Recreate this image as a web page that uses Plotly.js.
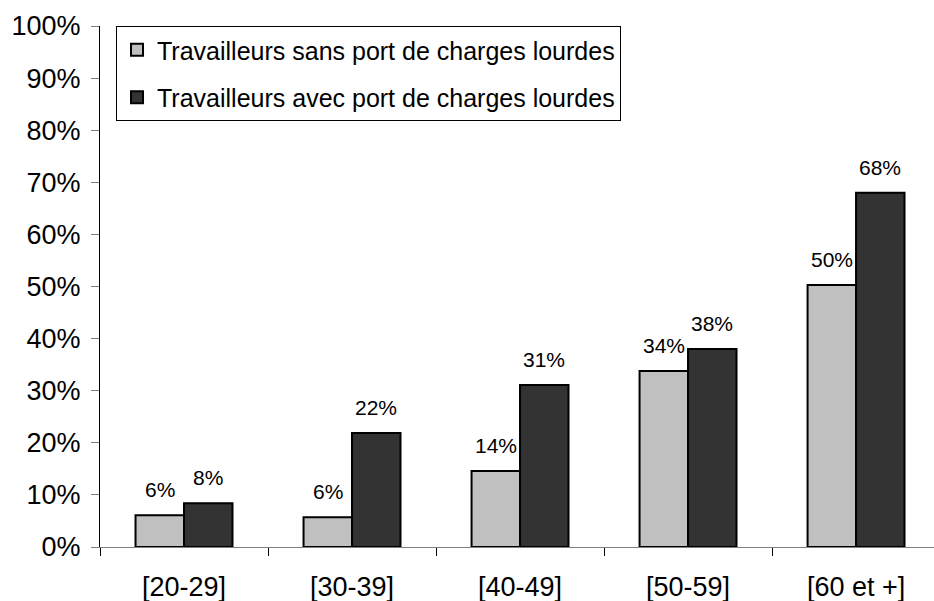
<!DOCTYPE html>
<html>
<head>
<meta charset="utf-8">
<script src="https://cdn.plot.ly/plotly-3.0.1.min.js"></script>
<style>html,body{margin:0;padding:0;background:#fff;}#chart{width:934px;height:601px;}</style>
</head>
<body>
<div id="chart"></div>
<script>
var categories = ["[20-29]", "[30-39]", "[40-49]", "[50-59]", "[60 et +]"];
var seriesNames = ["Travailleurs sans port de charges lourdes", "Travailleurs avec port de charges lourdes"];
var sansValues = [6.1, 5.7, 14.6, 33.8, 50.3];
var avecValues = [8.4, 21.9, 31.1, 38.0, 68.0];
var sansLabels = ["6%", "6%", "14%", "34%", "50%"];
var avecLabels = ["8%", "22%", "31%", "38%", "68%"];
var yTickVals = [0, 10, 20, 30, 40, 50, 60, 70, 80, 90, 100];
var yTickText = ["0%", "10%", "20%", "30%", "40%", "50%", "60%", "70%", "80%", "90%", "100%"];

var FONT = "Liberation Sans, Arial, sans-serif";

var traces = [
  {type: "bar", name: seriesNames[0], x: categories, y: sansValues, legendgroup: "a",
   marker: {color: "#c0c0c0", line: {color: "#000", width: 2}}, hoverinfo: "none"},
  {type: "bar", name: seriesNames[1], x: categories, y: avecValues, legendgroup: "b",
   marker: {color: "#333333", line: {color: "#000", width: 2}}, hoverinfo: "none"}
];

var annotations = [];
categories.forEach(function (c, i) {
  annotations.push({x: c, y: sansValues[i], xref: "x", yref: "y", text: sansLabels[i],
    showarrow: false, yanchor: "bottom", xanchor: "center", xshift: -24, yshift: 12,
    font: {family: FONT, size: 21, color: "#000"}});
  annotations.push({x: c, y: avecValues[i], xref: "x", yref: "y", text: avecLabels[i],
    showarrow: false, yanchor: "bottom", xanchor: "center", xshift: 24, yshift: 12,
    font: {family: FONT, size: 21, color: "#000"}});
});

var layout = {
  width: 934, height: 601,
  margin: {l: 100, r: 0, t: 26, b: 54, pad: 0},
  paper_bgcolor: "#fff", plot_bgcolor: "#fff",
  font: {family: FONT, color: "#000"},
  barmode: "group", bargap: 0.423, bargroupgap: 0,
  showlegend: true,
  legend: {x: 0.0192, y: 1.0, xanchor: "left", yanchor: "top",
    bordercolor: "#000", borderwidth: 1, bgcolor: "#fff",
    font: {family: FONT, size: 25, color: "#000"}, tracegroupgap: 12,
    traceorder: "grouped"},
  xaxis: {type: "category", range: [-0.5, 4.464], fixedrange: true,
    showline: true, linecolor: "#808080", linewidth: 1,
    ticks: "outside", tickson: "boundaries", ticklen: 8, tickcolor: "#000", tickwidth: 1,
    showgrid: false, zeroline: false, automargin: false, ticklabelstandoff: 16,
    tickfont: {family: FONT, size: 27, color: "#000"}},
  yaxis: {range: [0, 100], fixedrange: true, tickmode: "array", tickvals: yTickVals, ticktext: yTickText,
    showline: true, linecolor: "#000", linewidth: 1,
    ticks: "outside", ticklen: 8, tickcolor: "#808080", tickwidth: 1,
    showgrid: false, zeroline: false, automargin: false, ticklabelstandoff: 5,
    tickfont: {family: FONT, size: 27, color: "#000"}},
  annotations: annotations
};

Plotly.newPlot("chart", traces, layout, {displayModeBar: false, staticPlot: true});
</script>
</body>
</html>
